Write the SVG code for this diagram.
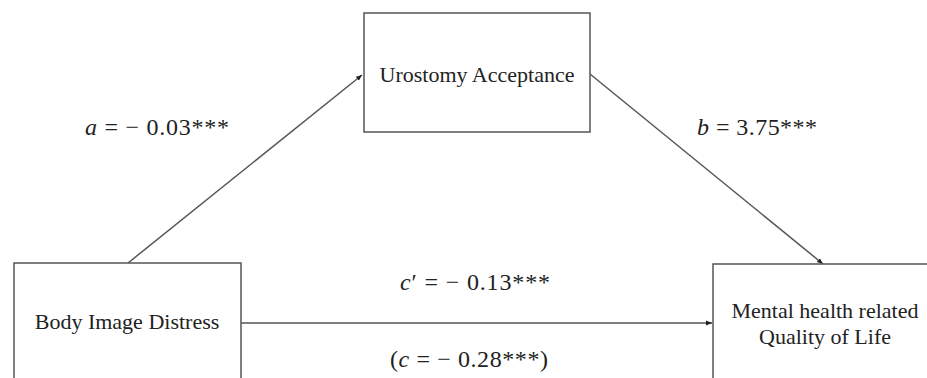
<svg xmlns="http://www.w3.org/2000/svg" width="927" height="378" viewBox="0 0 927 378">
<style>
.box{fill:#fff;stroke:#555;stroke-width:1.5}
.edge{fill:none;stroke:#555;stroke-width:1.5}
text{font-family:"Liberation Serif","Times New Roman",serif;font-size:22px;fill:#222}
.lbl{font-size:24px}
.it{font-style:italic}
</style>
<defs>
<marker id="ah" viewBox="0 0 10 10" refX="10" refY="5" markerWidth="6" markerHeight="6" orient="auto" markerUnits="userSpaceOnUse">
<path d="M0,1 L10,5 L0,9 z" fill="#222"/>
</marker>
</defs>
<rect width="927" height="378" fill="#fff"/>
<g id="edges">
<line class="edge" x1="128" y1="263" x2="362" y2="75" marker-end="url(#ah)"/>
<line class="edge" x1="590" y1="74" x2="823" y2="264" marker-end="url(#ah)"/>
<line class="edge" x1="241" y1="323" x2="712" y2="323" marker-end="url(#ah)"/>
</g>
<g id="node-urostomy">
<rect class="box" x="364" y="13" width="226" height="119"/>
<text x="477" y="82" text-anchor="middle">Urostomy Acceptance</text>
</g>
<g id="node-body">
<rect class="box" x="14" y="263" width="227" height="130"/>
<text x="127" y="329" text-anchor="middle">Body Image Distress</text>
</g>
<g id="node-mental">
<rect class="box" x="713" y="264" width="230" height="130"/>
<text x="825" y="318" text-anchor="middle">Mental health related</text>
<text x="825" y="344" text-anchor="middle">Quality of Life</text>
</g>
<g id="labels">
<text class="lbl" x="85" y="135" textLength="144" lengthAdjust="spacing"><tspan class="it">a</tspan> = − 0.03***</text>
<text class="lbl" x="697" y="135" textLength="120" lengthAdjust="spacing"><tspan class="it">b</tspan> = 3.75***</text>
<text class="lbl" x="400" y="290" textLength="150" lengthAdjust="spacing"><tspan class="it">c</tspan>′ = − 0.13***</text>
<text class="lbl" x="390" y="367" textLength="158" lengthAdjust="spacing">(<tspan class="it">c</tspan> = − 0.28***)</text>
</g>
</svg>
